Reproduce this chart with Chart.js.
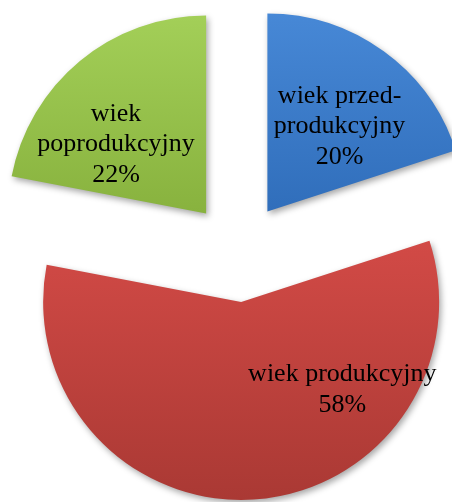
<!DOCTYPE html>
<html>
<head>
<meta charset="utf-8">
<script src="https://cdn.jsdelivr.net/npm/chart.js@4"></script>
<style>
  html, body { margin: 0; padding: 0; background: #fff; }
  #wrap { width: 452px; height: 502px; }
</style>
</head>
<body>
<div id="wrap"><canvas id="myChart"></canvas></div>
<script>
// dane wykresu
const categories = ['wiek przed-produkcyjny', 'wiek produkcyjny', 'wiek poprodukcyjny'];
const shares = [20, 58, 22];
const labelLines = [['wiek przed-', 'produkcyjny'], ['wiek produkcyjny'], ['wiek', 'poprodukcyjny']];

// kolory wycinkow (gora -> dol)
const topColors = ['#4788d6', '#d24a46', '#a3cf58'];
const bottomColors = ['#306ebb', '#aa3934', '#88b23e'];

// rozsuniecie wycinkow wzdluz dwusiecznej
const explodePlugin = {
  id: 'explode',
  afterDatasetUpdate(chart, args, opts) {
    args.meta.data.forEach(arc => {
      const mid = (arc.startAngle + arc.endAngle) / 2;
      arc.x += Math.cos(mid) * opts.distance;
      arc.y += Math.sin(mid) * opts.distance;
    });
  },
  beforeDatasetsDraw(chart) {
    const ctx = chart.ctx;
    chart.getDatasetMeta(0).data.forEach((arc, i) => {
      // pionowy zakres wycinka
      let yMin = arc.y, yMax = arc.y;
      for (let k = 0; k <= 40; k++) {
        const a = arc.startAngle + (arc.endAngle - arc.startAngle) * k / 40;
        const y = arc.y + Math.sin(a) * arc.outerRadius;
        yMin = Math.min(yMin, y);
        yMax = Math.max(yMax, y);
      }
      const g = ctx.createLinearGradient(0, yMin, 0, yMax);
      g.addColorStop(0, topColors[i]);
      g.addColorStop(1, bottomColors[i]);
      arc.options.backgroundColor = g;
    });
    ctx.save();
    ctx.shadowColor = 'rgba(0,0,0,0.35)';
    ctx.shadowBlur = 6;
    ctx.shadowOffsetX = 2;
    ctx.shadowOffsetY = 3;
  },
  afterDatasetsDraw(chart) {
    chart.ctx.restore();
  }
};

// etykiety w wycinkach
const labelPlugin = {
  id: 'sliceLabels',
  afterDatasetsDraw(chart, args, opts) {
    const ctx = chart.ctx;
    const data = chart.data.datasets[0].data;
    ctx.save();
    ctx.fillStyle = '#000';
    ctx.font = '26px "Liberation Serif", "Times New Roman", serif';
    ctx.textAlign = 'center';
    ctx.textBaseline = 'middle';
    chart.getDatasetMeta(0).data.forEach((arc, i) => {
      const p = arc.getCenterPoint();
      const lines = labelLines[i].concat([data[i] + '%']);
      const x = p.x + opts.shift[i][0];
      const y0 = p.y + opts.shift[i][1] - (lines.length - 1) / 2 * opts.lineHeight;
      lines.forEach((t, k) => ctx.fillText(t, x, y0 + k * opts.lineHeight));
    });
    ctx.restore();
  }
};

const ctx = document.getElementById('myChart').getContext('2d');
new Chart(ctx, {
  type: 'pie',
  data: {
    labels: categories,
    datasets: [{
      data: shares,
      backgroundColor: topColors,
      borderWidth: 0,
      radius: 198
    }]
  },
  options: {
    responsive: true,
    maintainAspectRatio: false,
    animation: false,
    layout: { padding: { left: 24, top: 2, right: 0, bottom: 0 } },
    events: [],
    plugins: {
      legend: { display: false },
      tooltip: { enabled: false },
      explode: { distance: 50 },
      sliceLabels: {
        lineHeight: 30.5,
        shift: [[14, -5], [95, -11], [-27, 7]]
      }
    }
  },
  plugins: [explodePlugin, labelPlugin]
});
</script>
</body>
</html>
